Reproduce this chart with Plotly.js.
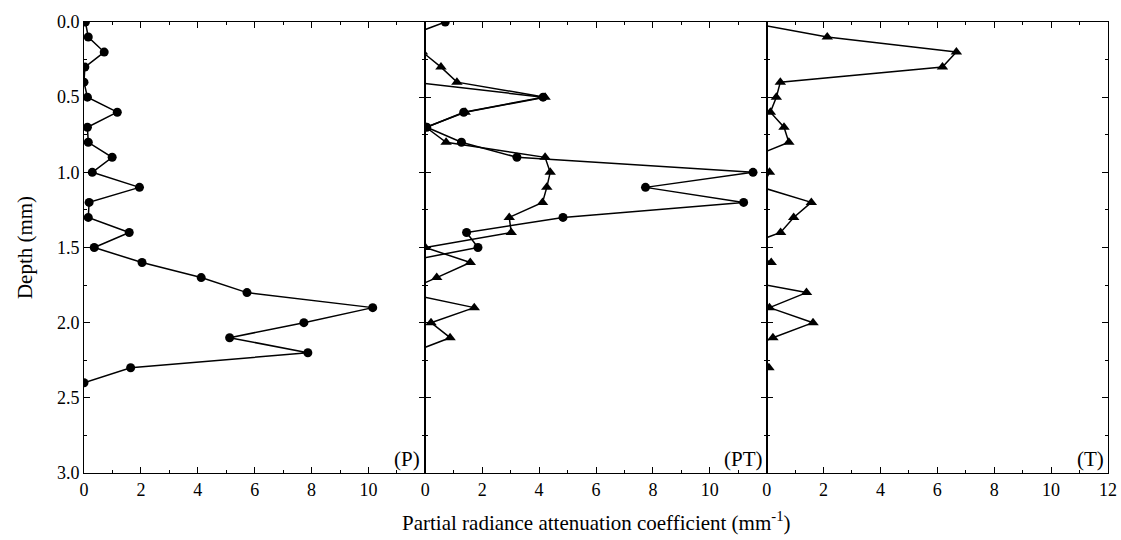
<!DOCTYPE html>
<html>
<head>
<meta charset="utf-8">
<script src="https://cdn.plot.ly/plotly-3.0.1.min.js"></script>
<style>html,body{margin:0;padding:0;background:#fff;}#chart{width:1121px;height:540px;}</style>
</head>
<body>
<div id="chart"></div>
<script>
// Depth values (mm)
var depthP = [0.0,0.1,0.2,0.3,0.4,0.5,0.6,0.7,0.8,0.9,1.0,1.1,1.2,1.3,1.4,1.5,1.6,1.7,1.8,1.9,2.0,2.1,2.2,2.3,2.4];
var valP   = [0.05,0.15,0.71,0.03,0.0,0.12,1.17,0.12,0.15,0.99,0.29,1.95,0.18,0.15,1.59,0.36,2.04,4.12,5.73,10.15,7.73,5.12,7.87,1.64,0.0];

var depthPTc = [0.0,0.1,0.2,0.3,0.4,0.5,0.6,0.7,0.8,0.9,1.0,1.1,1.2,1.3,1.4,1.5,1.6];
var valPTc   = [0.7,-0.7,-0.8,-0.8,-0.46,4.14,1.35,0.05,1.27,3.22,11.52,7.74,11.19,4.84,1.45,1.85,-0.9];

var depthPTt = [0.1,0.2,0.3,0.4,0.5,0.6,0.7,0.8,0.9,1.0,1.1,1.2,1.3,1.4,1.5,1.6,1.7,1.8,1.9,2.0,2.1,2.2];
var valPTt   = [-0.6,-0.1,0.55,1.11,4.21,1.40,0.02,0.73,4.21,4.39,4.27,4.12,2.95,3.02,0.0,1.58,0.40,-0.8,1.72,0.20,0.87,-0.5];

var depthT = [0.0,0.1,0.2,0.3,0.4,0.5,0.6,0.7,0.8,0.9,1.0,1.1,1.2,1.3,1.4,1.5,1.6,1.7,1.8,1.9,2.0,2.1,2.2,2.3,2.4];
var valT   = [-0.75,2.13,6.67,6.18,0.48,0.34,0.13,0.61,0.78,-0.52,0.1,-0.17,1.57,0.95,0.49,-0.95,0.16,-1.40,1.40,0.10,1.63,0.22,-1.0,0.08,-1.0];

var xTicks12 = [0,2,4,6,8,10];
var xTicks3 = [0,2,4,6,8,10,12];
var yTicks = [0,0.5,1.0,1.5,2.0,2.5,3.0];

var fontFam = 'Liberation Serif, Times New Roman, serif';
var lineStyle = {color:'#000', width:1.5};

var traces = [
  {x: valP, y: depthP, xaxis:'x', yaxis:'y', mode:'lines+markers', line:lineStyle,
   marker:{symbol:'circle', size:9, color:'#000'}, cliponaxis:true},
  {x: valPTc, y: depthPTc, xaxis:'x2', yaxis:'y2', mode:'lines+markers', line:lineStyle,
   marker:{symbol:'circle', size:9, color:'#000'}, cliponaxis:true},
  {x: valPTt, y: depthPTt, xaxis:'x2', yaxis:'y2', mode:'lines+markers', line:lineStyle,
   marker:{symbol:'triangle-up', size:10, color:'#000'}, cliponaxis:true},
  {x: valT, y: depthT, xaxis:'x3', yaxis:'y3', mode:'lines+markers', line:lineStyle,
   marker:{symbol:'triangle-up', size:10, color:'#000'}, cliponaxis:true}
];

function xax(dom, ticks, anchor){
  return {domain:dom, range:[0,12], anchor:anchor, tickmode:'array', tickvals:ticks,
    ticks:'inside', ticklen:6, tickwidth:1, tickcolor:'#000',
    minor:{dtick:1, tick0:0, ticks:'inside', ticklen:3, tickcolor:'#000'},
    showline:true, linecolor:'#000', linewidth:1.2, mirror:'ticks',
    showgrid:false, zeroline:false, tickfont:{family:fontFam, size:18, color:'#000'}};
}
function yax(anchor, labels){
  return {domain:[0,1], range:[3,0], anchor:anchor, tickmode:'array', tickvals:yTicks,
    tickformat:'.1f', showticklabels:labels,
    ticks:'inside', ticklen:6, tickwidth:1, tickcolor:'#000',
    minor:{dtick:0.25, tick0:0, ticks:'inside', ticklen:3, tickcolor:'#000'},
    showline:true, linecolor:'#000', linewidth:1, mirror:'ticks',
    showgrid:false, zeroline:false, tickfont:{family:fontFam, size:18, color:'#000'}};
}

var layout = {
  width:1121, height:540,
  margin:{l:84, r:13, t:22, b:67},
  paper_bgcolor:'#fff', plot_bgcolor:'#fff',
  showlegend:false,
  font:{family:fontFam, color:'#000'},
  xaxis: xax([0,1/3], xTicks12, 'y'),
  xaxis2: xax([1/3,2/3], xTicks12, 'y2'),
  xaxis3: xax([2/3,1], xTicks3, 'y3'),
  yaxis: yax('x', true),
  yaxis2: yax('x2', false),
  yaxis3: yax('x3', false),
  annotations:[
    {text:'(P)', xref:'x domain', yref:'y domain', x:0.99, y:0.0, xanchor:'right', yanchor:'bottom', showarrow:false, font:{family:fontFam, size:21, color:'#000'}},
    {text:'(PT)', xref:'x2 domain', yref:'y2 domain', x:0.995, y:0.0, xanchor:'right', yanchor:'bottom', showarrow:false, font:{family:fontFam, size:21, color:'#000'}},
    {text:'(T)', xref:'x3 domain', yref:'y3 domain', x:0.995, y:0.0, xanchor:'right', yanchor:'bottom', showarrow:false, font:{family:fontFam, size:21, color:'#000'}},
    {text:'Partial radiance attenuation coefficient (mm<sup>-1</sup>)', xref:'paper', yref:'paper', x:0.5, y:-0.108, xanchor:'center', yanchor:'middle', showarrow:false, font:{family:fontFam, size:21, color:'#000'}},
    {text:'Depth (mm)', xref:'paper', yref:'paper', x:-0.058, y:0.5, xanchor:'center', yanchor:'middle', textangle:-90, showarrow:false, font:{family:fontFam, size:21, color:'#000'}}
  ]
};

Plotly.newPlot('chart', traces, layout, {displayModeBar:false, staticPlot:true});
</script>
</body>
</html>
